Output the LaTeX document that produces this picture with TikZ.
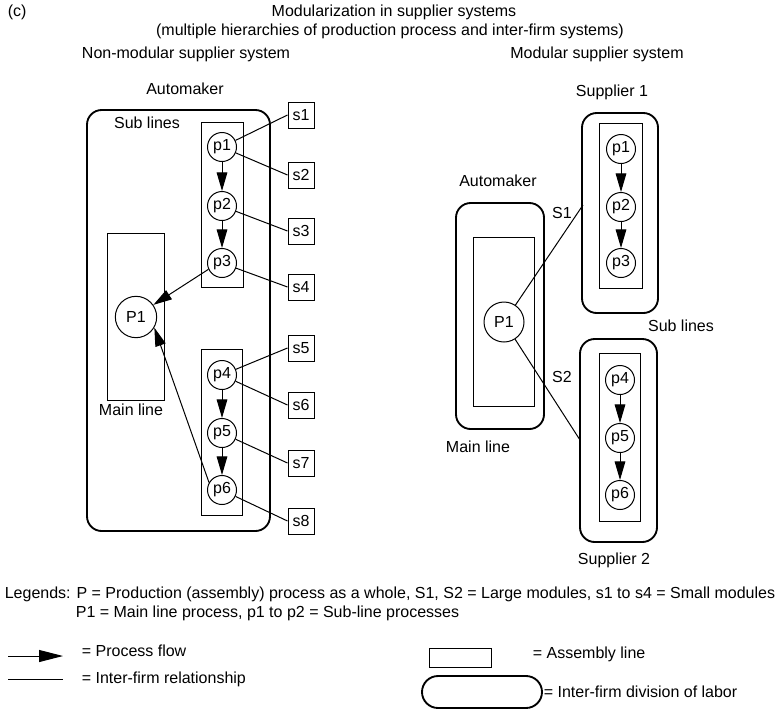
\documentclass[tikz,border=0pt]{standalone}
\usepackage{fontspec}
\setmainfont{Liberation Sans}
\usetikzlibrary{shapes,arrows.meta,positioning,fit,calc}

\tikzset{
  proc/.style={draw, circle, minimum size=21.75pt, inner sep=0pt},
  mainproc/.style={draw, circle, minimum size=31pt, inner sep=0pt},
  module/.style={draw, rectangle, minimum size=19.5pt, inner sep=0pt},
  assembly/.style={draw, rectangle, line width=0.75pt},
  division/.style={draw, line width=1.4pt, rounded corners=11pt},
  flow/.style={-{Triangle[length=14pt,width=8pt]}, line width=0.75pt},
  rel/.style={line width=0.75pt},
  lbl/.style={inner sep=1pt},
}

\begin{document}
\begin{tikzpicture}[x=0.75pt, y=-0.75pt, font=\fontsize{12pt}{14pt}\selectfont, line width=0.75pt]
\useasboundingbox (0,0) rectangle (778,711);

% headings
\node[lbl, anchor=west] (tag) at (6,12) {(c)};
\node[lbl] (title1) at (394,12) {Modularization in supplier systems};
\node[lbl] (title2) at (390,31) {(multiple hierarchies of production process and inter-firm systems)};
\node[lbl] (headL) at (186,54) {Non-modular supplier system};
\node[lbl] (headR) at (597,54) {Modular supplier system};

% non-modular side
\node[lbl] (autoL) at (185,89) {Automaker};
\draw[division] (87,110) rectangle (270,531);
\node[lbl] (subL) at (147,123) {Sub lines};

\node[mainproc] (P1) at (136,317) {P1};
\node[assembly, fit=(P1), inner xsep=5.6pt, inner ysep=46.5pt] (mainbox) {};
\node[lbl] (mainL) at (131,410) {Main line};

\node[proc] (p1) at (222,147) {p1};
\node[proc] (p2) at (222,206) {p2};
\node[proc] (p3) at (222,263) {p3};
\node[proc] (p4) at (222,375) {p4};
\node[proc] (p5) at (222,433) {p5};
\node[proc] (p6) at (222,490) {p6};
\node[assembly, fit=(p1)(p3), inner xsep=4.5pt, inner ysep=7.2pt] (subA) {};
\node[assembly, fit=(p4)(p6), inner xsep=4.1pt, inner ysep=8.2pt] (subB) {};

% small modules
\foreach \i/\y in {1/115,2/175,3/231,4/287,5/348,6/405,7/463,8/521}
  \node[module] (s\i) at (301,\y) {s\i};
\foreach \p/\s in {p1/s1,p1/s2,p2/s3,p3/s4,p4/s5,p4/s6,p5/s7,p6/s8}
  \draw[rel] (\p) -- (\s.west);

\draw[flow] (p1) -- (p2);
\draw[flow] (p2) -- (p3);
\draw[flow] (p4) -- (p5);
\draw[flow] (p5) -- (p6);
\draw[flow] (p3.205) -- (P1.35);
\draw[flow] (p6.150) -- (P1.-30);

% modular side
\node[lbl] (autoR) at (498,181) {Automaker};
\draw[division] (456,203) rectangle (544,429);
\node[mainproc, minimum size=30pt] (mP1) at (504,322) {P1};
\node[assembly, fit=(mP1), inner xsep=7.5pt, inner ysep=48pt] (mmain) {};
\node[lbl] (mainR) at (478,447) {Main line};

\node[lbl] (sup1) at (612,92) {Supplier 1};
\draw[division] (582,113) rectangle (658,313);
\node[proc] (mp1) at (621,149) {p1};
\node[proc] (mp2) at (621,207) {p2};
\node[proc] (mp3) at (621,263) {p3};
\node[assembly, fit=(mp1)(mp3), inner xsep=4.9pt, inner ysep=8.2pt] (msub1) {};

\node[lbl] (subR) at (681,326) {Sub lines};

\draw[division] (580,339) rectangle (657,542);
\node[proc] (mp4) at (620,380) {p4};
\node[proc] (mp5) at (620,438) {p5};
\node[proc] (mp6) at (620,495) {p6};
\node[assembly, fit=(mp4)(mp6), inner xsep=4.1pt, inner ysep=8.6pt] (msub2) {};
\node[lbl] (sup2) at (614,560) {Supplier 2};

\draw[flow] (mp1) -- (mp2);
\draw[flow] (mp2) -- (mp3);
\draw[flow] (mp4) -- (mp5);
\draw[flow] (mp5) -- (mp6);

\coordinate (S1end) at (583,205);
\coordinate (S2end) at (580,440);
\draw[rel] (mP1) -- (S1end);
\draw[rel] (mP1) -- (S2end);
\node[lbl] (S1) at (562,213) {S1};
\node[lbl] (S2) at (562,377) {S2};

% legends
\node[lbl, anchor=west] (leg1) at (3,594) {Legends: P = Production (assembly) process as a whole, S1, S2 = Large modules, s1 to s4 = Small modules};
\node[lbl, anchor=west] (leg2) at (74,613) {P1 = Main line process, p1 to p2 = Sub-line processes};

\coordinate (fa) at (8,656);
\coordinate (fb) at (63,656);
\draw[flow, -{Triangle[length=18pt,width=9pt]}] (fa) -- (fb);
\node[lbl, anchor=west] (legflow) at (80,651) {= Process flow};
\coordinate (ra) at (8,679);
\coordinate (rb) at (63,679);
\draw[rel] (ra) -- (rb);
\node[lbl, anchor=west] (legrel) at (80,679) {= Inter-firm relationship};

\node[assembly, minimum width=46.5pt, minimum height=14.25pt, inner sep=0pt] (legbox) at (460,657.5) {};
\node[lbl, anchor=west] (legasm) at (531,654) {= Assembly line};
\node[division, rounded corners=12pt, minimum width=90pt, minimum height=24pt] (legrnd) at (482,692) {};
\node[lbl, anchor=west] (legdiv) at (542,692) {= Inter-firm division of labor};
\end{tikzpicture}
\end{document}
